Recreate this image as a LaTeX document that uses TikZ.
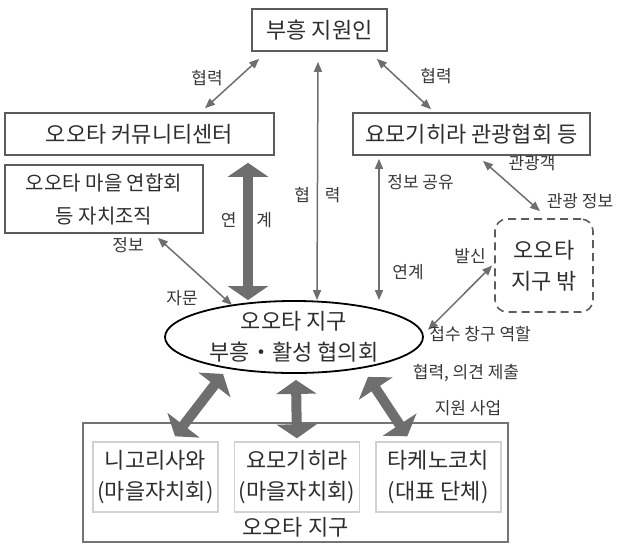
\documentclass[tikz,border=0pt]{standalone}
\usepackage{fontspec}
\setmainfont{Noto Sans CJK KR}
\usetikzlibrary{arrows.meta, positioning, shapes.geometric}
\definecolor{arrowgray}{HTML}{6E6E6E}
\definecolor{boxgray}{HTML}{5C5C5C}
\definecolor{textgray}{HTML}{2E2E2E}
\def\boxFont{\fontsize{11pt}{15.5pt}\selectfont}
\def\lblFont{\fontsize{8.5pt}{10pt}\selectfont}
\def\subW{62.5pt}
\def\subH{35pt}

\begin{document}
\begin{tikzpicture}[
    x=0.5pt, y=-0.5pt,
    every node/.style={text=textgray, inner sep=0pt},
    box/.style={draw=boxgray, line width=0.8pt, font=\boxFont, align=center},
    outbox/.style={box, dash pattern=on 4pt off 2.5pt, rounded corners=6pt},
    council/.style={ellipse, draw=black, line width=0.9pt, font=\boxFont, align=center,
        minimum width=129pt, minimum height=35pt},
    subbox/.style={draw=black!18, line width=0.7pt, font=\boxFont, align=center,
        minimum width=\subW, minimum height=\subH},
    lbl/.style={font=\lblFont, text=black!78},
    infoarrow/.style={draw=arrowgray, line width=0.75pt, >={Triangle[length=5pt,width=4pt]}, <->},
    mainarrow/.style={draw=arrowgray, line width=5pt, >={Triangle[length=7pt,width=20pt]}, <->}
]
\useasboundingbox (0,0) rectangle (620,543);

% boxes
\node[box, minimum width=67.5pt, minimum height=21pt] (supporter) at (319.5,30) {부흥 지원인};
\node[box, minimum width=134.5pt, minimum height=21pt] (commcenter) at (139.5,134) {오오타 커뮤니티센터};
\node[box, minimum width=118.5pt, minimum height=21pt] (tourism) at (471.5,134) {요모기히라 관광협회 등};
\node[box, minimum width=99pt, minimum height=34pt, font=\fontsize{10pt}{16.5pt}\selectfont] (union) at (104,199) {오오타 마을 연합회\\등 자치조직};
\node[outbox, minimum width=49pt, minimum height=46.5pt] (outside) at (544,265.5) {오오타\\지구 밖};
\node[council] (council) at (294,337) {오오타 지구\\부흥・활성 협의회};

% district
\node[draw=boxgray!85, line width=0.9pt, minimum width=212.5pt, minimum height=59.5pt] (district) at (295.5,482.5) {};
\node[subbox] (nigori) at (155.5,477) {니고리사와\\(마을자치회)};
\node[subbox, right=7.5pt of nigori] (yomogi) {요모기히라\\(마을자치회)};
\node[subbox, right=7.5pt of yomogi] (takeno) {타케노코치\\(대표 단체)};
\node[font=\boxFont] (districtname) at (295.5,527) {오오타 지구};

% thin links
\draw[infoarrow] ([xshift=32.75pt,yshift=2pt]commcenter.north) -- ([xshift=4pt,yshift=-3.5pt]supporter.south west);
\draw[infoarrow] ([xshift=-20.25pt,yshift=1.5pt]tourism.north) -- ([xshift=-5.5pt,yshift=-3.5pt]supporter.south east);
\draw[infoarrow] ([xshift=-0.75pt,yshift=-5pt]supporter.south) -- ([xshift=11.5pt]council.north);
\draw[infoarrow] ([xshift=-46.25pt,yshift=-1.5pt]tourism.south) -- ([xshift=42.5pt]council.north);
\draw[infoarrow] ([xshift=5.75pt,yshift=-2.5pt]tourism.south) -- ([xshift=-2pt,yshift=3.5pt]outside.north);
\draw[infoarrow] ([xshift=2pt,yshift=3.5pt]council.east) -- ([xshift=-1pt]outside.west);
\draw[infoarrow] ([xshift=-23pt,yshift=-2pt]union.south east) -- ([xshift=-31pt,yshift=-2.5pt]council.north);

% thick links
\draw[mainarrow] ([xshift=54.25pt,yshift=-3.5pt]commcenter.south) -- ([xshift=-23pt]council.north);
\draw[mainarrow] ([xshift=-35.5pt]council.south) -- ([xshift=9.75pt,yshift=2.5pt]nigori.north);
\draw[mainarrow] ([xshift=1pt,yshift=-3pt]council.south) -- ([yshift=1.5pt]yomogi.north);
\draw[mainarrow] ([xshift=37pt,yshift=-1.5pt]council.south) -- ([xshift=-15.5pt,yshift=2.5pt]takeno.north);

% labels
\node[lbl] (coopL) at (207,78) {협력};
\node[lbl] (coopR) at (436,76) {협력};
\node[lbl] (coopM) at (317.5,195) {협\hspace{7.5pt}력};
\node[lbl] (linkL) at (246.5,220) {연\hspace{10pt}계};
\node[lbl, anchor=west] (share) at (387,182) {정보 공유};
\node[lbl, anchor=west] (linkR) at (392,272) {연계};
\node[lbl] (visitor) at (532,163) {관광객};
\node[lbl] (tourinfo) at (580,201) {관광 정보};
\node[lbl] (send) at (470,256) {발신};
\node[lbl, anchor=west] (desk) at (429,334) {접수 창구 역할};
\node[lbl] (info) at (128,245) {정보};
\node[lbl] (advice) at (182,298) {자문};
\node[lbl] (opinion) at (466,373) {협력, 의견 제출};
\node[lbl] (support) at (468,408) {지원 사업};
\end{tikzpicture}
\end{document}
